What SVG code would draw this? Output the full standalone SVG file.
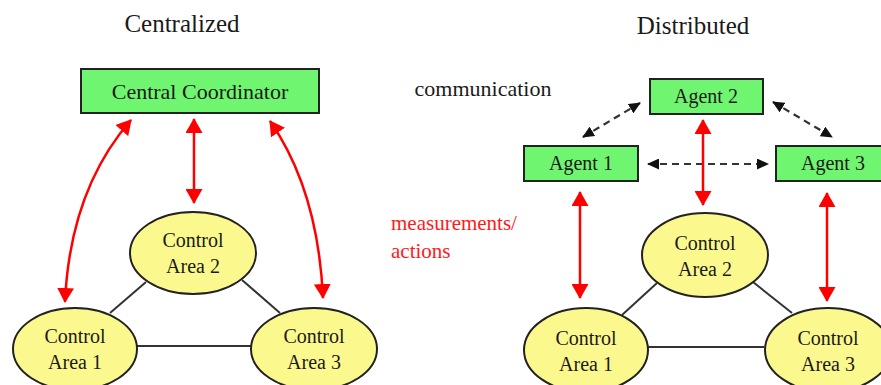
<svg xmlns="http://www.w3.org/2000/svg" width="881" height="385" viewBox="0 0 881 385">
<style>
text{font-family:'Liberation Serif','Times New Roman','DejaVu Serif',serif;fill:#1a1a1a;text-anchor:middle}
.title{font-size:25px}
.box{fill:#70f570;stroke:#222;stroke-width:2}
.ell{fill:#fbf98e;stroke:#222;stroke-width:2}
.lbl{font-size:20px}
.red{stroke:#ff0000;stroke-width:2.5;fill:none;marker-start:url(#rh);marker-end:url(#rh)}
.dash{stroke:#333;stroke-width:2.2;stroke-dasharray:7 5;fill:none;marker-start:url(#bh);marker-end:url(#bh)}
.link{stroke:#333;stroke-width:2;fill:none}
</style>
<defs>
<marker id="rh" viewBox="0 0 15 17" refX="14" refY="8.5" markerWidth="15" markerHeight="17" markerUnits="userSpaceOnUse" orient="auto-start-reverse">
<path d="M0,0 L15,8.5 L0,17 Z" fill="#ff0000"/>
</marker>
<marker id="bh" viewBox="0 0 12 11" refX="11" refY="5.5" markerWidth="12" markerHeight="11" markerUnits="userSpaceOnUse" orient="auto-start-reverse">
<path d="M0,0 L12,5.5 L0,11 Z" fill="#111"/>
</marker>
</defs>
<rect width="881" height="385" fill="#fff"/>
<g font-family="Liberation Serif, serif">
<text class="title" x="182" y="32">Centralized</text>
<text class="title" x="693" y="34">Distributed</text>
<text x="483" y="96" style="font-size:22px">communication</text>
<text x="391" y="230" style="font-size:21px;fill:#ff1a1a;text-anchor:start">measurements/</text>
<text x="391" y="258" style="font-size:21px;fill:#ff1a1a;text-anchor:start">actions</text>
</g>

<g id="connectors">
<line class="link" x1="137" y1="346" x2="251" y2="346"/>
<line class="link" x1="110" y1="313" x2="146" y2="282"/>
<line class="link" x1="242" y1="280" x2="280" y2="313"/>
<path class="red" d="M131,120 Q70,190 65,302"/>
<line class="red" x1="194" y1="119" x2="194" y2="203"/>
<path class="red" d="M270,121 Q318,190 323,298"/>
<line class="link" x1="648" y1="347" x2="764" y2="347"/>
<line class="link" x1="622" y1="315" x2="657" y2="283"/>
<line class="link" x1="753" y1="282" x2="792" y2="313"/>
<line class="dash" x1="583" y1="137" x2="640" y2="103"/>
<line class="dash" x1="773" y1="102" x2="832" y2="137"/>
<line class="dash" x1="648" y1="164" x2="768" y2="164"/>
<line class="red" x1="703" y1="120" x2="703" y2="205"/>
<line class="red" x1="580" y1="192" x2="580" y2="298"/>
<line class="red" x1="827" y1="193" x2="827" y2="301"/>
</g>

<g id="central-coordinator">
<rect class="box" x="81" y="69" width="238" height="44"/>
<text x="200" y="99" style="font-size:22px">Central Coordinator</text>
</g>
<g id="c-area2">
<ellipse class="ell" cx="193" cy="253" rx="63" ry="41"/>
<text class="lbl" x="193" y="247">Control</text>
<text class="lbl" x="193" y="273">Area 2</text>
</g>
<g id="c-area1">
<ellipse class="ell" cx="75" cy="349" rx="62" ry="41"/>
<text class="lbl" x="75" y="343">Control</text>
<text class="lbl" x="75" y="369">Area 1</text>
</g>
<g id="c-area3">
<ellipse class="ell" cx="314" cy="349" rx="63" ry="41"/>
<text class="lbl" x="314" y="343">Control</text>
<text class="lbl" x="314" y="369">Area 3</text>
</g>

<g id="agent2">
<rect class="box" x="650" y="79" width="113" height="35"/>
<text class="lbl" x="706" y="103">Agent 2</text>
</g>
<g id="agent1">
<rect class="box" x="524" y="146" width="114" height="35"/>
<text class="lbl" x="581" y="170">Agent 1</text>
</g>
<g id="agent3">
<rect class="box" x="776" y="146" width="114" height="35"/>
<text class="lbl" x="833" y="170">Agent 3</text>
</g>
<g id="d-area2">
<ellipse class="ell" cx="705" cy="255" rx="63" ry="42"/>
<text class="lbl" x="705" y="250">Control</text>
<text class="lbl" x="705" y="276">Area 2</text>
</g>
<g id="d-area1">
<ellipse class="ell" cx="586" cy="350" rx="62" ry="42"/>
<text class="lbl" x="586" y="345">Control</text>
<text class="lbl" x="586" y="371">Area 1</text>
</g>
<g id="d-area3">
<ellipse class="ell" cx="828" cy="350" rx="63" ry="42"/>
<text class="lbl" x="828" y="345">Control</text>
<text class="lbl" x="828" y="371">Area 3</text>
</g>
</svg>
